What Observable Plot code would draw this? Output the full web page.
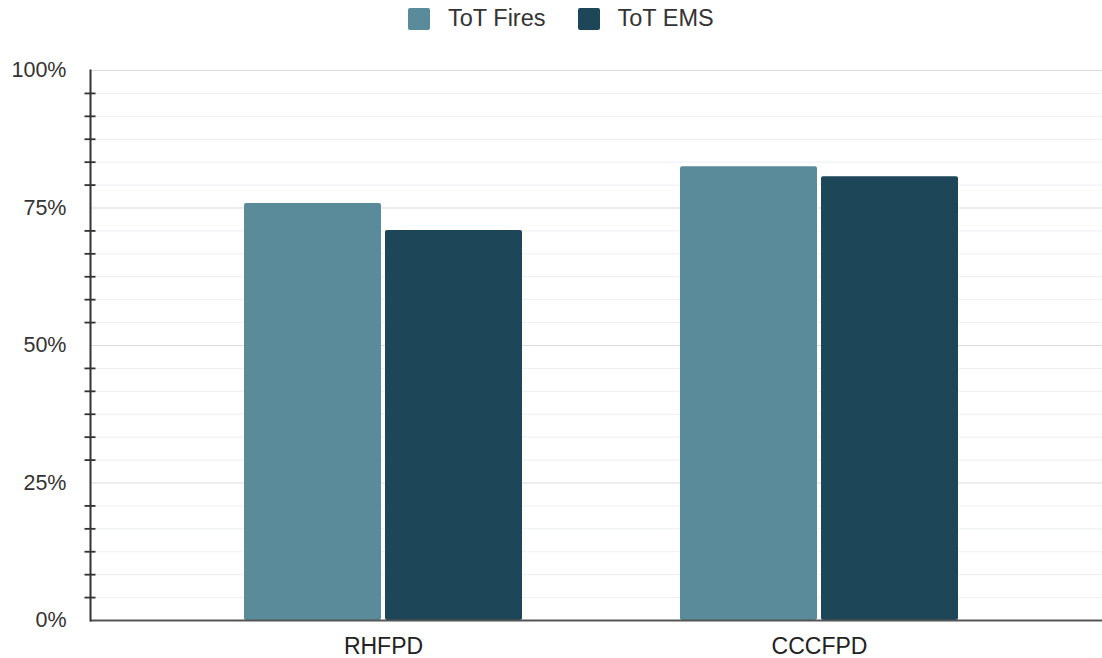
<!DOCTYPE html>
<html>
<head>
<meta charset="utf-8">
<script src="https://cdn.jsdelivr.net/npm/d3@7"></script>
<script src="https://cdn.jsdelivr.net/npm/@observablehq/plot@0.6"></script>
<style>
  html, body { margin: 0; padding: 0; background: #fff; }
  #wrap { position: relative; width: 1102px; height: 658px; font-family: "Liberation Sans", Arial, sans-serif; }
  #legend { position: absolute; left: 408px; top: 5px; display: flex; align-items: center; font-size: 23.5px; color: #333; }
  .sw { width: 22px; height: 22px; border-radius: 2px; display: inline-block; margin-right: 18px; }
  .item { display: flex; align-items: center; margin-right: 32px; }
</style>
</head>
<body>
<div id="wrap">
  <div id="legend"></div>
  <div id="chart"></div>
</div>
<script>
const categories = ["RHFPD", "CCCFPD"];
const seriesNames = ["ToT Fires", "ToT EMS"];
const firesValues = [75.8, 82.5];
const emsValues = [70.9, 80.7];
const majorTicks = [0, 25, 50, 75, 100];
const minorTicks = d3.range(1, 24).filter(i => i % 6 !== 0).map(i => i * 25 / 6);
const colors = ["#5a8b9a", "#1e4659"];

const fires = categories.map((c, i) => ({category: c, value: firesValues[i]}));
const ems = categories.map((c, i) => ({category: c, value: emsValues[i]}));

const legend = document.getElementById("legend");
seriesNames.forEach((s, i) => {
  const it = document.createElement("span");
  it.className = "item";
  it.innerHTML = `<span class="sw" style="background:${colors[i]}"></span><span>${s}</span>`;
  legend.appendChild(it);
});

const chart = Plot.plot({
  width: 1102,
  height: 658,
  marginTop: 70,
  marginBottom: 38,
  marginLeft: 90,
  marginRight: 0,
  style: {fontFamily: "Liberation Sans, Arial, sans-serif", color: "#222", background: "#fff"},
  x: {domain: categories, range: [90, 1112], paddingInner: 0.362, paddingOuter: 0.353, label: null},
  y: {domain: [0, 100], label: null},
  marks: [
    Plot.ruleY(minorTicks, {stroke: "#eceef0", strokeWidth: 1}),
    Plot.ruleY(majorTicks.filter(d => d > 0), {stroke: "#d8dbdf", strokeWidth: 1.2}),
    Plot.barY(fires, {x: "category", y: "value", fill: colors[0], insetRight: 141, rx: 2}),
    Plot.barY(ems, {x: "category", y: "value", fill: colors[1], insetLeft: 141, rx: 2}),
    Plot.ruleY([0], {stroke: "#555", strokeWidth: 2}),
    Plot.frame({anchor: "left", stroke: "#333", strokeWidth: 2}),
    Plot.axisY(minorTicks, {tickSize: 11, dx: 5.5, tickFormat: () => "", stroke: "#333", strokeWidth: 1.8}),
    Plot.axisY(majorTicks, {tickSize: 0, tickPadding: 24, tickFormat: d => d + "%", fontSize: 21.5, fill: "#333", label: null}),
    Plot.axisX({tickSize: 0, tickPadding: 17, fontSize: 23, fill: "#222", label: null})
  ]
});
document.getElementById("chart").appendChild(chart);
</script>
</body>
</html>
